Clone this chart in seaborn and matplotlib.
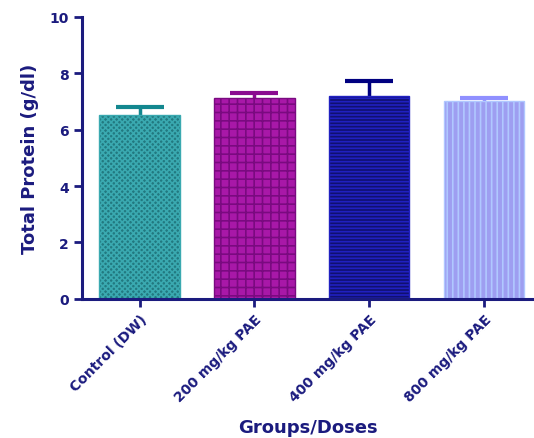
import numpy as np
import pandas as pd
import matplotlib
matplotlib.use("Agg")
import matplotlib.pyplot as plt
import seaborn as sns

# data
groups = ["Control (DW)", "200 mg/kg PAE", "400 mg/kg PAE", "800 mg/kg PAE"]
means = [6.52, 7.12, 7.19, 7.02]
sem = [0.29, 0.19, 0.54, 0.12]

face_colors = ["#13878f", "#c000c0", "#000080", "#9090ff"]
hatch_colors = ["#3aa9b0", "#7a0a80", "#2020c0", "#b0c8ff"]
err_colors = ["#13878f", "#8a0a90", "#000080", "#9090ff"]
hatches = ["xxxxxx", "++", "-----", "|||"]
navy = "#1b1b7e"

sns.set_style("ticks")
plt.rcParams["font.family"] = ["DejaVu Sans"]
plt.rcParams["hatch.linewidth"] = 1.2

df = pd.DataFrame({"group": groups, "value": means})

fig = plt.figure(figsize=(5.34, 4.39), dpi=100)
ax = fig.add_axes([0.154, 0.317, 0.845, 0.642])

sns.barplot(data=df, x="group", y="value", hue="group", palette=face_colors,
            width=0.70, errorbar=None, legend=False, ax=ax)

for patch, hc, h in zip(ax.patches, hatch_colors, hatches):
    patch.set_hatch(h)
    patch.set_edgecolor(hc)
    patch.set_linewidth(1.0)
    patch.set_zorder(3)

# symmetric error bars drawn behind the bars, so only the upper half shows
for i, (m, e, c) in enumerate(zip(means, sem, err_colors)):
    ax.errorbar(i, m, yerr=e, fmt="none", ecolor=c,
                elinewidth=2.5, capsize=17, capthick=3, zorder=1)

ax.set_ylim(0, 10)
ax.set_xlim(-0.5, 3.43)
ax.set_yticks([0, 2, 4, 6, 8, 10])

ax.set_ylabel("Total Protein (g/dl)", fontsize=13, fontweight="bold", color=navy, labelpad=8)
ax.set_xlabel("Groups/Doses", fontsize=13, fontweight="bold", color=navy, labelpad=10)

ax.tick_params(axis="both", colors=navy, width=2, length=6, labelsize=10)
for lab in ax.get_yticklabels():
    lab.set_fontweight("bold")
for lab in ax.get_xticklabels():
    lab.set_rotation(45)
    lab.set_ha("right")
    lab.set_rotation_mode("anchor")
    lab.set_fontweight("bold")

sns.despine(ax=ax)
for s in ["left", "bottom"]:
    ax.spines[s].set_color(navy)
    ax.spines[s].set_linewidth(2.2)
    ax.spines[s].set_zorder(4)

fig.savefig("out.png", dpi=100)
